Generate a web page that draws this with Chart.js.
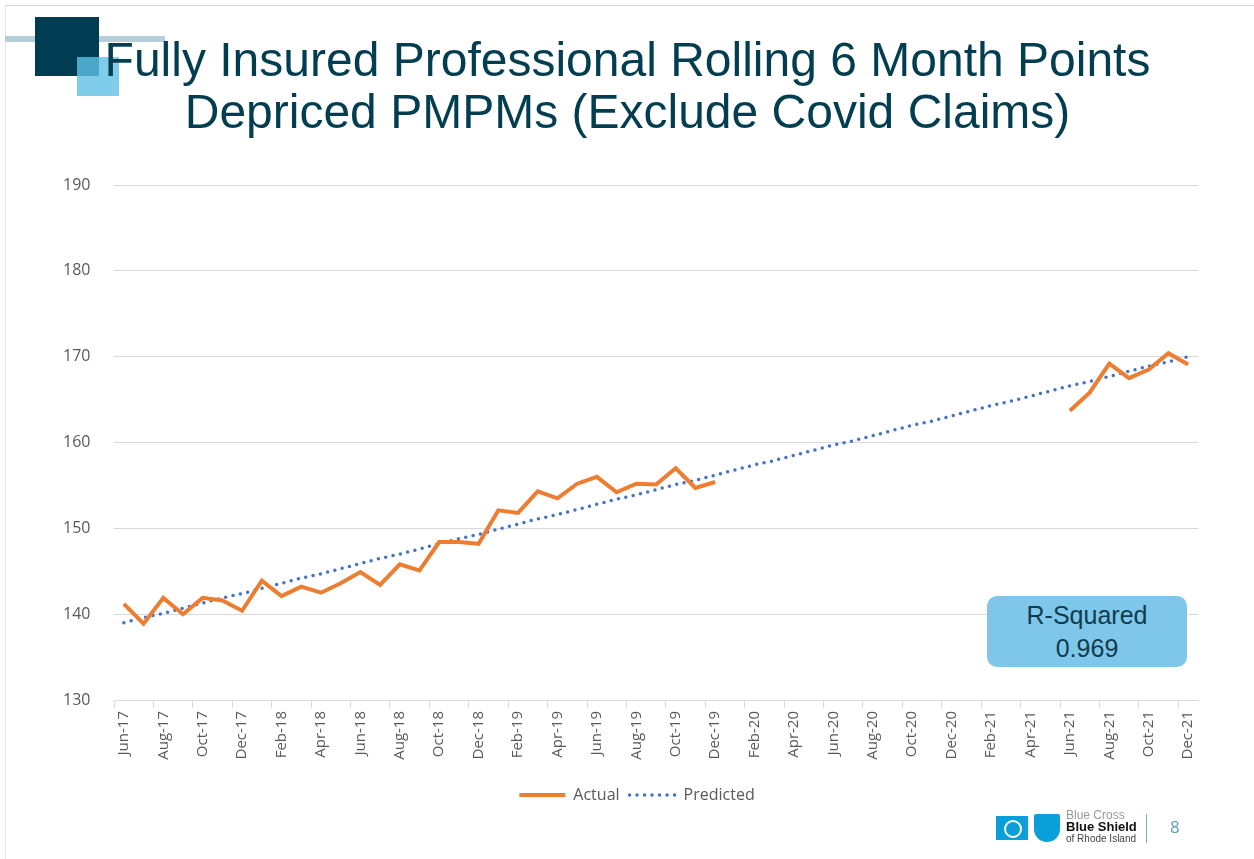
<!DOCTYPE html>
<html>
<head>
<meta charset="utf-8">
<script src="https://cdn.jsdelivr.net/npm/chart.js@4"></script>
<style>
  body { margin: 0; background: #fff; }
  #page { position: relative; width: 1254px; height: 859px; overflow: hidden; font-family: "Liberation Sans", Arial, sans-serif; }
  #plot { position: absolute; left: 0; top: 0; }
  .topline { position: absolute; left: 5px; top: 5px; width: 1249px; height: 1px; background: #d4d4d4; }
  .leftline { position: absolute; left: 5px; top: 5px; width: 1px; height: 854px; background: #e4e4e4; }
  .bar { position: absolute; left: 5px; top: 36px; width: 160px; height: 6px; background: #b6ced9; }
  .sq1 { position: absolute; left: 35px; top: 17px; width: 64px; height: 59px; background: #013d52; }
  .sq2 { position: absolute; left: 77px; top: 57px; width: 42px; height: 39px; background: #7fcdeb; }
  .sq3 { position: absolute; left: 77px; top: 57px; width: 22px; height: 19px; background: #4aa7c9; }
  #title { position: absolute; left: 0; top: 34px; width: 1255px; text-align: center; color: #033e50; font-size: 48px; line-height: 52px; }
  #rsq { position: absolute; left: 987px; top: 596px; width: 200px; height: 71px; border-radius: 10px; background: #7fc7ea; color: #0f3c4c; text-align: center; font-size: 25px; line-height: 33px; padding-top: 3px; box-sizing: border-box; }
  .logo-cross { position: absolute; left: 996px; top: 816px; width: 32px; height: 24px; background: #0a9fd8; }
  .logo-cross i { position: absolute; left: 8px; top: 4px; width: 14px; height: 14px; border: 2px solid #fff; border-radius: 50%; }
  .logo-shield { position: absolute; left: 1034px; top: 814px; width: 26px; height: 28px; background: #0a9fd8; border-radius: 2px 2px 13px 13px; }
  .logo-text { position: absolute; left: 1066px; top: 810px; font-size: 12px; line-height: 11px; color: #111; }
  .sep { position: absolute; left: 1146px; top: 814px; width: 1px; height: 29px; background: #7aaec6; }
  .pnum { position: absolute; left: 1170px; top: 815px; font-size: 17px; color: #5d9cb8; font-family: "Open Sans", sans-serif; }
</style>
</head>
<body>
<div id="page">
  <canvas id="plot" width="1254" height="859"></canvas>
  <div class="topline"></div>
  <div class="leftline"></div>
  <div class="bar"></div>
  <div class="sq1"></div>
  <div class="sq2"></div>
  <div class="sq3"></div>
  <div id="title">Fully Insured Professional Rolling 6 Month Points<br>Depriced PMPMs (Exclude Covid Claims)</div>
  <div id="rsq">R-Squared<br>0.969</div>
  <div class="logo-cross"><i></i></div>
  <div class="logo-shield"></div>
  <div class="logo-text"><span style="color:#999">Blue Cross</span><br><b style="font-size:13px">Blue Shield</b><br><span style="font-size:10px;color:#444">of Rhode Island</span></div>
  <div class="sep"></div>
  <div class="pnum">8</div>
</div>
<script>
const months = ['Jun-17', 'Jul-17', 'Aug-17', 'Sep-17', 'Oct-17', 'Nov-17', 'Dec-17',
  'Jan-18', 'Feb-18', 'Mar-18', 'Apr-18', 'May-18', 'Jun-18', 'Jul-18', 'Aug-18', 'Sep-18', 'Oct-18', 'Nov-18', 'Dec-18',
  'Jan-19', 'Feb-19', 'Mar-19', 'Apr-19', 'May-19', 'Jun-19', 'Jul-19', 'Aug-19', 'Sep-19', 'Oct-19', 'Nov-19', 'Dec-19',
  'Jan-20', 'Feb-20', 'Mar-20', 'Apr-20', 'May-20', 'Jun-20', 'Jul-20', 'Aug-20', 'Sep-20', 'Oct-20', 'Nov-20', 'Dec-20',
  'Jan-21', 'Feb-21', 'Mar-21', 'Apr-21', 'May-21', 'Jun-21', 'Jul-21', 'Aug-21', 'Sep-21', 'Oct-21', 'Nov-21', 'Dec-21'];

// actual PMPM, gap for covid period
const actual = [141.2, 138.9, 141.9, 140.0, 141.9, 141.6, 140.4,
  143.9, 142.1, 143.2, 142.5, 143.6, 144.9, 143.4, 145.8, 145.1, 148.4, 148.4, 148.2,
  152.1, 151.8, 154.3, 153.5, 155.2, 156.0, 154.2, 155.2, 155.1, 157.0, 154.7, 155.4,
  null, null, null, null, null, null, null, null, null, null, null, null,
  null, null, null, null, null, 163.7, 165.8, 169.2, 167.5, 168.5, 170.4, 169.1];

// trend line
const predicted = [139.0, 139.6, 140.1, 140.7, 141.3, 141.9, 142.4,
  143.0, 143.6, 144.2, 144.7, 145.3, 145.9, 146.5, 147.0, 147.6, 148.2, 148.8, 149.3,
  149.9, 150.5, 151.1, 151.6, 152.2, 152.8, 153.4, 153.9, 154.5, 155.1, 155.6, 156.2,
  156.8, 157.4, 157.9, 158.5, 159.1, 159.7, 160.2, 160.8, 161.4, 162.0, 162.5, 163.1,
  163.7, 164.3, 164.8, 165.4, 166.0, 166.6, 167.1, 167.7, 168.3, 168.9, 169.4, 170.0];

const yTicks = [130, 140, 150, 160, 170, 180, 190];

const gray = '#595959';
const gridColor = '#d9d9d9';

const ctx = document.getElementById('plot');

var chart = new Chart(ctx, {
  type: 'line',
  data: {
    labels: months,
    datasets: [{
      label: 'Actual',
      data: actual,
      borderColor: '#ed7d31',
      backgroundColor: '#ed7d31',
      borderWidth: 4,
      pointRadius: 0,
      tension: 0,
      borderJoinStyle: 'miter'
    }, {
      label: 'Predicted',
      data: predicted,
      borderColor: '#4472c4',
      backgroundColor: '#4472c4',
      borderWidth: 3.5,
      borderDash: [0, 7.5],
      borderCapStyle: 'round',
      pointRadius: 0,
      tension: 0
    }]
  },
  options: {
    responsive: false,
    animation: false,
    layout: { padding: { left: 76, right: 56, top: 185, bottom: 46 } },
    plugins: {
      legend: {
        position: 'bottom',
        labels: {
          usePointStyle: true,
          pointStyleWidth: 46,
          color: gray,
          font: { family: 'Open Sans', size: 16 },
          padding: 10,
          // legend uses point style, so copy the line style from the dataset
          generateLabels: function (chart) {
            const items = Chart.defaults.plugins.legend.labels.generateLabels(chart);
            items.forEach(function (it) {
              const ds = chart.data.datasets[it.datasetIndex];
              it.pointStyle = 'line';
              it.strokeStyle = ds.borderColor;
              it.lineWidth = ds.borderWidth;
              it.lineDash = ds.borderDash || [];
              it.lineCap = ds.borderCapStyle || 'butt';
            });
            return items;
          }
        }
      },
      tooltip: { enabled: false }
    },
    scales: {
      x: {
        offset: true,
        afterFit: function (s) { s.height = 77; },
        grid: {
          offset: true,
          drawOnChartArea: false,
          tickLength: 8,
          color: function (c) { return c.index % 2 === 0 ? gridColor : 'rgba(0,0,0,0)'; }
        },
        border: { color: gridColor },
        ticks: {
          autoSkip: false,
          maxRotation: 90,
          minRotation: 90,
          padding: 3,
          color: gray,
          font: { family: 'Open Sans', size: 15 },
          callback: function (v, i) { return i % 2 === 0 ? months[i] : ''; }
        }
      },
      y: {
        min: 130,
        max: 190,
        afterFit: function (s) { s.width = 38; },
        afterBuildTicks: function (s) { s.ticks = yTicks.map(v => ({ value: v })); },
        grid: { color: gridColor, drawTicks: false },
        border: { display: false },
        ticks: {
          mirror: true,
          padding: -51,
          color: gray,
          font: { family: 'Open Sans', size: 16 }
        }
      }
    }
  }
});
</script>
</body>
</html>
